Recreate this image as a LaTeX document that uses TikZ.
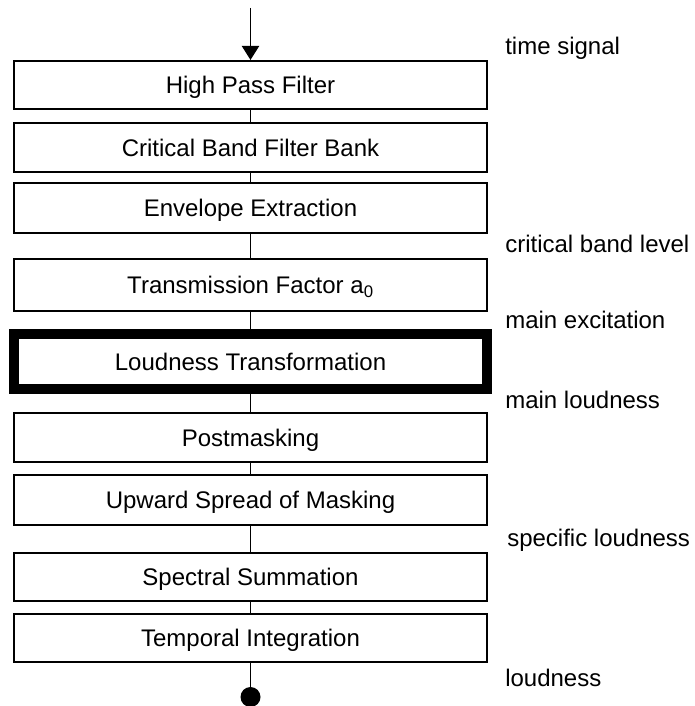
\documentclass[tikz,border=0pt]{standalone}
\usepackage{fontspec}
\setmainfont{Liberation Sans}
\usetikzlibrary{arrows.meta}
\begin{document}
\begin{tikzpicture}[x=0.75pt,y=-0.75pt,
  every node/.style={font=\fontsize{18}{21}\selectfont},
  blk/.style={draw, line width=1.6pt, minimum width=354.75pt, inner sep=0pt,
              text height=13pt, text depth=0pt},
  bold blk/.style={blk, line width=7.5pt},
  lbl/.style={anchor=base west, inner sep=0pt},
  conn/.style={line width=0.9pt}]
\clip (0,0) rectangle (695,706);
\fill[white] (0,0) rectangle (695,706);
% boxes
\node[blk, minimum height=36pt]    (b1) at (250.5,85)    {High Pass Filter};
\node[blk, minimum height=36.75pt] (b2) at (250.5,147.5) {Critical Band Filter Bank};
\node[blk, minimum height=37.5pt]  (b3) at (250.5,208)   {Envelope Extraction};
\node[blk, minimum height=39pt]    (b4) at (250.5,285)   {Transmission Factor a\textsubscript{0}};
\node[bold blk, minimum height=41.6pt] (b5) at (250.5,361.5) {Loudness Transformation};
\node[blk, minimum height=36.75pt] (b6) at (250.5,437.5) {Postmasking};
\node[blk, minimum height=37.5pt]  (b7) at (250.5,500)   {Upward Spread of Masking};
\node[blk, minimum height=36pt]    (b8) at (250.5,577)   {Spectral Summation};
\node[blk, minimum height=36pt]    (b9) at (250.5,638)   {Temporal Integration};
% input and output
\coordinate (in) at (250.5,8);
\node[circle, fill=black, minimum size=15pt, inner sep=0pt] (out) at (250.5,697) {};
% connectors
\draw[conn, -{Triangle[length=10.5pt,width=13pt]}] (in) -- (b1.north);
\draw[conn] (b1.south) -- (b2.north);
\draw[conn] (b2.south) -- (b3.north);
\draw[conn] (b3.south) -- (b4.north);
\draw[conn] (b4.south) -- (b5.north);
\draw[conn] (b5.south) -- (b6.north);
\draw[conn] (b6.south) -- (b7.north);
\draw[conn] (b7.south) -- (b8.north);
\draw[conn] (b8.south) -- (b9.north);
\draw[conn] (b9.south) -- (out);
% labels
\node[lbl] (l1) at (505,55)  {time signal};
\node[lbl] (l2) at (505,252) {critical band level};
\node[lbl] (l3) at (505,328) {main excitation};
\node[lbl] (l4) at (505,408) {main loudness};
\node[lbl] (l5) at (507,546) {specific loudness};
\node[lbl] (l6) at (505,686) {loudness};
\end{tikzpicture}
\end{document}
